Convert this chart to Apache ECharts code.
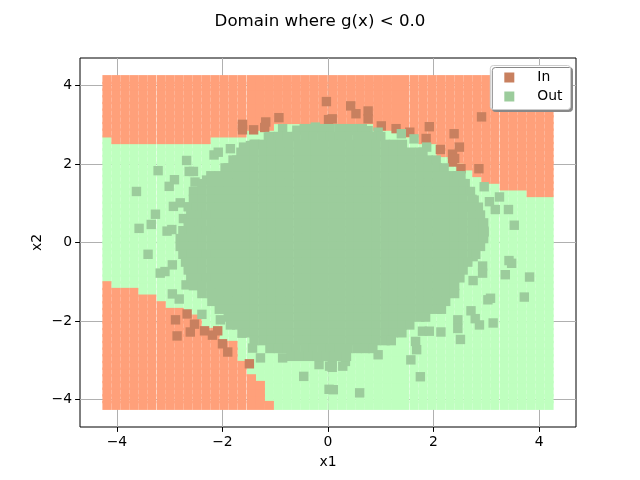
<!DOCTYPE html>
<html><head><meta charset="utf-8">
<style>html,body{margin:0;padding:0;background:#fff}#c{width:640px;height:480px}</style>
<script src="https://cdn.jsdelivr.net/npm/echarts@6/dist/echarts.min.js"></script>
</head><body><div id="c"></div>
<script>
const tickValues=[-4,-2,0,2,4];
const gridX=[-4.19,-4.02,-3.85,-3.68,-3.51,-3.34,-3.16,-2.99,-2.82,-2.65,-2.48,-2.31,-2.14,-1.97,-1.80,-1.63,-1.45,-1.28,-1.11,-0.94,-0.77,-0.60,-0.43,-0.26,-0.09,0.09,0.26,0.43,0.60,0.77,0.94,1.11,1.28,1.45,1.63,1.80,1.97,2.14,2.31,2.48,2.65,2.82,2.99,3.16,3.34,3.51,3.68,3.85,4.02,4.19];
const gridY=[-4.15,-3.98,-3.81,-3.64,-3.47,-3.30,-3.13,-2.96,-2.79,-2.62,-2.45,-2.29,-2.12,-1.95,-1.78,-1.61,-1.44,-1.27,-1.10,-0.93,-0.76,-0.59,-0.42,-0.25,-0.08,0.08,0.25,0.42,0.59,0.76,0.93,1.10,1.27,1.44,1.61,1.78,1.95,2.12,2.29,2.45,2.62,2.79,2.96,3.13,3.30,3.47,3.64,3.81,3.98,4.15];
// lower edge of the upper "In" region, per grid column
const topEdge=[2.73,2.50,2.50,2.50,2.50,2.50,2.50,2.50,2.50,2.50,2.50,2.50,2.73,2.73,2.73,2.73,2.75,2.80,2.86,2.91,2.93,2.98,3.01,3.03,3.06,3.06,3.06,3.01,2.96,2.91,2.88,2.83,2.78,2.73,2.68,2.55,2.40,2.22,2.09,1.97,1.81,1.69,1.54,1.43,1.38,1.33,1.23,1.21,1.13,1.06];
// upper edge of the lower "In" region, per grid column (first columns only)
const bottomEdge=[-1.03,-1.18,-1.18,-1.18,-1.33,-1.38,-1.48,-1.59,-1.69,-1.79,-1.89,-2.07,-2.22,-2.42,-2.55,-2.91,-3.31,-3.57,-4.00];
const samplesIn=[[-1.62,3.01],[-1.62,2.87],[-1.41,2.87],[-1.18,3.07],[-1.20,2.93],[-0.93,3.18],[-0.03,3.59],[0.01,3.13],[0.43,3.48],[0.53,3.28],[0.76,3.35],[0.76,3.15],[0.08,3.15],[1.01,2.97],[1.29,2.90],[1.55,2.81],[1.92,2.95],[1.86,2.65],[2.39,2.77],[2.49,2.43],[2.13,2.37],[2.36,2.25],[2.36,2.05],[2.52,1.88],[2.86,1.88],[2.91,3.20],[2.40,2.14],[-2.89,-1.97],[-2.67,-1.82],[-2.53,-2.08],[-2.61,-2.28],[-2.86,-2.38],[-2.34,-2.25],[-2.19,-2.36],[-2.09,-2.25],[-2.00,-2.58],[-1.90,-2.79],[-1.49,-3.09]];
const samplesOutScattered=[[-2.68,2.09],[-3.22,1.83],[-2.91,1.60],[-3.01,1.43],[-3.63,1.30],[-2.63,1.81],[-2.55,1.81],[-3.27,0.72],[-3.35,0.46],[-3.58,0.36],[-3.05,0.29],[-2.96,0.33],[-2.93,0.92],[-2.80,1.01],[-2.65,0.91],[-2.74,0.61],[-2.16,2.23],[-2.08,2.30],[-1.85,2.39],[-1.60,2.43],[-1.47,2.47],[-1.38,2.50],[-1.44,2.22],[-1.13,2.69],[-1.03,2.43],[-0.86,2.90],[-0.59,2.86],[-0.24,2.94],[-2.52,1.54],[-2.30,1.59],[0.76,2.85],[0.95,2.81],[0.49,2.86],[1.39,2.77],[1.63,2.64],[1.87,2.43],[3.25,1.16],[3.06,1.04],[3.17,0.84],[3.42,0.84],[3.53,0.44],[2.52,1.70],[2.96,1.42],[2.96,0.27],[2.65,0.95],[2.84,0.82],[2.77,1.08],[3.43,-0.46],[3.48,-0.53],[3.36,-0.82],[3.82,-0.88],[3.72,-1.39],[3.08,-1.42],[3.03,-1.46],[3.13,-2.05],[2.87,-2.10],[2.79,-1.94],[2.71,-1.74],[2.51,-2.47],[2.46,-1.97],[2.46,-2.19],[2.14,-2.28],[2.75,-0.97],[2.93,-0.60],[2.93,-0.78],[2.75,-0.36],[1.75,-3.42],[0.60,-3.83],[0.10,-3.75],[1.57,-2.99],[1.68,-2.73],[1.66,-2.52],[1.79,-2.26],[1.92,-2.26],[0.95,-2.86],[0.28,-3.15],[0.33,-3.03],[0.08,-3.07],[0.08,-3.18],[0.68,-2.68],[-3.41,-0.30],[-3.18,-0.78],[-3.09,-0.74],[-2.95,-0.57],[-2.95,-1.31],[-2.82,-1.44],[-2.69,-1.08],[-2.39,-1.83],[-0.46,-3.41],[0.02,-3.74],[-1.28,-2.94],[-0.86,-2.94],[-1.43,-2.69],[-0.17,-3.11],[-0.11,-2.90],[0.03,-3.15],[-2.04,-1.97],[-1.63,-2.31]];
const coreRowY=[2.9,2.7,2.5,2.3,2.1,1.9,1.7,1.5,1.3,1.1,0.9,0.7,0.5,0.3,0.1,-0.1,-0.3,-0.5,-0.7,-0.9,-1.1,-1.3,-1.5,-1.7,-1.9,-2.1,-2.3,-2.5,-2.7,-2.9];
const coreRowX=[
[-0.45,-0.29,-0.12,0.04,0.21,0.37,0.54,0.65],
[-1.10,-0.94,-0.77,-0.61,-0.44,-0.28,-0.11,0.05,0.22,0.38,0.55,0.71,0.88,1.00],
[-1.40,-1.23,-1.07,-0.90,-0.74,-0.57,-0.41,-0.24,-0.08,0.09,0.25,0.42,0.58,0.75,0.91,1.08,1.24,1.41],
[-1.65,-1.56,-1.40,-1.23,-1.07,-0.90,-0.74,-0.57,-0.41,-0.24,-0.08,0.09,0.25,0.42,0.58,0.75,0.91,1.08,1.24,1.41,1.57,1.74,1.80],
[-1.80,-1.73,-1.56,-1.40,-1.23,-1.07,-0.90,-0.74,-0.57,-0.41,-0.24,-0.08,0.09,0.25,0.42,0.58,0.75,0.91,1.08,1.24,1.41,1.57,1.74,1.90,2.05],
[-1.95,-1.89,-1.73,-1.56,-1.40,-1.23,-1.07,-0.90,-0.74,-0.57,-0.41,-0.24,-0.08,0.09,0.25,0.42,0.58,0.75,0.91,1.08,1.24,1.41,1.57,1.74,1.90,2.07,2.20],
[-2.22,-2.06,-1.89,-1.73,-1.56,-1.40,-1.23,-1.07,-0.90,-0.74,-0.57,-0.41,-0.24,-0.08,0.09,0.25,0.42,0.58,0.75,0.91,1.08,1.24,1.41,1.57,1.74,1.90,2.07,2.23,2.40,2.45],
[-2.39,-2.22,-2.06,-1.89,-1.73,-1.56,-1.40,-1.23,-1.07,-0.90,-0.74,-0.57,-0.41,-0.24,-0.08,0.09,0.25,0.42,0.58,0.75,0.91,1.08,1.24,1.41,1.57,1.74,1.90,2.07,2.23,2.40,2.56,2.60],
[-2.55,-2.39,-2.22,-2.06,-1.89,-1.73,-1.56,-1.40,-1.23,-1.07,-0.90,-0.74,-0.57,-0.41,-0.24,-0.08,0.09,0.25,0.42,0.58,0.75,0.91,1.08,1.24,1.41,1.57,1.74,1.90,2.07,2.23,2.40,2.56,2.70],
[-2.55,-2.39,-2.22,-2.06,-1.89,-1.73,-1.56,-1.40,-1.23,-1.07,-0.90,-0.74,-0.57,-0.41,-0.24,-0.08,0.09,0.25,0.42,0.58,0.75,0.91,1.08,1.24,1.41,1.57,1.74,1.90,2.07,2.23,2.40,2.56,2.73],
[-2.50,-2.39,-2.22,-2.06,-1.89,-1.73,-1.56,-1.40,-1.23,-1.07,-0.90,-0.74,-0.57,-0.41,-0.24,-0.08,0.09,0.25,0.42,0.58,0.75,0.91,1.08,1.24,1.41,1.57,1.74,1.90,2.07,2.23,2.40,2.56,2.73,2.85],
[-2.60,-2.45,-2.30,-2.14,-2.06,-1.89,-1.73,-1.56,-1.40,-1.23,-1.07,-0.90,-0.74,-0.57,-0.41,-0.24,-0.08,0.09,0.25,0.42,0.58,0.75,0.91,1.08,1.24,1.41,1.57,1.74,1.90,2.07,2.23,2.40,2.56,2.73,2.89],
[-2.65,-2.55,-2.39,-2.22,-2.06,-1.89,-1.73,-1.56,-1.40,-1.23,-1.07,-0.90,-0.74,-0.57,-0.41,-0.24,-0.08,0.09,0.25,0.42,0.58,0.75,0.91,1.08,1.24,1.41,1.57,1.74,1.90,2.07,2.23,2.40,2.56,2.73,2.89,2.95],
[-2.75,-2.60,-2.45,-2.30,-2.14,-2.06,-1.89,-1.73,-1.56,-1.40,-1.23,-1.07,-0.90,-0.74,-0.57,-0.41,-0.24,-0.08,0.09,0.25,0.42,0.58,0.75,0.91,1.08,1.24,1.41,1.57,1.74,1.90,2.07,2.23,2.40,2.56,2.73,2.89,2.95],
[-2.80,-2.72,-2.55,-2.39,-2.22,-2.06,-1.89,-1.73,-1.56,-1.40,-1.23,-1.07,-0.90,-0.74,-0.57,-0.41,-0.24,-0.08,0.09,0.25,0.42,0.58,0.75,0.91,1.08,1.24,1.41,1.57,1.74,1.90,2.07,2.23,2.40,2.56,2.73,2.89,2.95],
[-2.80,-2.72,-2.55,-2.39,-2.22,-2.06,-1.89,-1.73,-1.56,-1.40,-1.23,-1.07,-0.90,-0.74,-0.57,-0.41,-0.24,-0.08,0.09,0.25,0.42,0.58,0.75,0.91,1.08,1.24,1.41,1.57,1.74,1.90,2.07,2.23,2.40,2.56,2.73,2.89],
[-2.75,-2.60,-2.45,-2.30,-2.14,-2.06,-1.89,-1.73,-1.56,-1.40,-1.23,-1.07,-0.90,-0.74,-0.57,-0.41,-0.24,-0.08,0.09,0.25,0.42,0.58,0.75,0.91,1.08,1.24,1.41,1.57,1.74,1.90,2.07,2.23,2.40,2.56,2.73,2.80],
[-2.70,-2.55,-2.39,-2.22,-2.06,-1.89,-1.73,-1.56,-1.40,-1.23,-1.07,-0.90,-0.74,-0.57,-0.41,-0.24,-0.08,0.09,0.25,0.42,0.58,0.75,0.91,1.08,1.24,1.41,1.57,1.74,1.90,2.07,2.23,2.40,2.56,2.65],
[-2.65,-2.55,-2.39,-2.22,-2.06,-1.89,-1.73,-1.56,-1.40,-1.23,-1.07,-0.90,-0.74,-0.57,-0.41,-0.24,-0.08,0.09,0.25,0.42,0.58,0.75,0.91,1.08,1.24,1.41,1.57,1.74,1.90,2.07,2.23,2.40,2.56],
[-2.60,-2.45,-2.30,-2.14,-2.06,-1.89,-1.73,-1.56,-1.40,-1.23,-1.07,-0.90,-0.74,-0.57,-0.41,-0.24,-0.08,0.09,0.25,0.42,0.58,0.75,0.91,1.08,1.24,1.41,1.57,1.74,1.90,2.07,2.23,2.40,2.50],
[-2.55,-2.39,-2.22,-2.06,-1.89,-1.73,-1.56,-1.40,-1.23,-1.07,-0.90,-0.74,-0.57,-0.41,-0.24,-0.08,0.09,0.25,0.42,0.58,0.75,0.91,1.08,1.24,1.41,1.57,1.74,1.90,2.07,2.23,2.40],
[-2.39,-2.22,-2.06,-1.89,-1.73,-1.56,-1.40,-1.23,-1.07,-0.90,-0.74,-0.57,-0.41,-0.24,-0.08,0.09,0.25,0.42,0.58,0.75,0.91,1.08,1.24,1.41,1.57,1.74,1.90,2.07,2.23,2.40],
[-2.20,-2.06,-1.89,-1.73,-1.56,-1.40,-1.23,-1.07,-0.90,-0.74,-0.57,-0.41,-0.24,-0.08,0.09,0.25,0.42,0.58,0.75,0.91,1.08,1.24,1.41,1.57,1.74,1.90,2.07,2.23],
[-2.06,-1.89,-1.73,-1.56,-1.40,-1.23,-1.07,-0.90,-0.74,-0.57,-0.41,-0.24,-0.08,0.09,0.25,0.42,0.58,0.75,0.91,1.08,1.24,1.41,1.57,1.74,1.90,2.07,2.15],
[-1.89,-1.73,-1.56,-1.40,-1.23,-1.07,-0.90,-0.74,-0.57,-0.41,-0.24,-0.08,0.09,0.25,0.42,0.58,0.75,0.91,1.08,1.24,1.41,1.57,1.74,1.85],
[-1.85,-1.73,-1.56,-1.40,-1.23,-1.07,-0.90,-0.74,-0.57,-0.41,-0.24,-0.08,0.09,0.25,0.42,0.58,0.75,0.91,1.08,1.24,1.41,1.55],
[-1.55,-1.40,-1.23,-1.07,-0.90,-0.74,-0.57,-0.41,-0.24,-0.08,0.09,0.25,0.42,0.58,0.75,0.91,1.08,1.24,1.40],
[-1.40,-1.23,-1.07,-0.90,-0.74,-0.57,-0.41,-0.24,-0.08,0.09,0.25,0.42,0.58,0.75,0.91,1.08,1.20],
[-1.10,-0.94,-0.77,-0.61,-0.44,-0.28,-0.11,0.05,0.22,0.38,0.55,0.71,0.85],
[-0.70,-0.54,-0.37,-0.21,-0.04,0.12,0.29,0.35]
];

const domainIn=[],domainOut=[];
gridX.forEach((x,i)=>gridY.forEach(y=>{
  const bot=i<bottomEdge.length?bottomEdge[i]:-9;
  (y>=topEdge[i]+0.06||y<=bot-0.06?domainIn:domainOut).push([x,y]);
}));
const samplesOut=[...samplesOutScattered];
coreRowY.forEach((y,r)=>coreRowX[r].forEach(x=>samplesOut.push([x,y])));

const font='"DejaVu Sans"';
const minus=v=>String(v).replace('-','\u2212');
function axis(name,gap,rot){return{
  type:'value',min:-4.7,max:4.7,name,nameLocation:'middle',nameGap:gap,nameRotate:rot,nameMoveOverlap:false,
  nameTextStyle:{fontFamily:font,fontSize:13.9,color:'#000'},
  axisLine:{show:false,onZero:false},
  axisTick:{show:true,length:4.9,customValues:tickValues,lineStyle:{color:'#000',width:1}},
  axisLabel:{show:true,customValues:tickValues,formatter:minus,fontFamily:font,fontSize:13.9,color:'#000',margin:8},
  splitLine:{show:true,lineStyle:{color:'#b0b0b0',width:1}}
};}
function cells(name,data,color,z,size){return{type:'scatter',name,data,symbol:'rect',symbolSize:size,silent:true,progressive:0,
  itemStyle:{color,opacity:1},z};}
const chart=echarts.init(document.getElementById('c'),null,{renderer:'canvas'});
chart.setOption({
  animation:false,backgroundColor:'#fff',
  title:{text:'Domain where g(x) < 0.0',left:'center',top:8,textStyle:{fontFamily:font,fontSize:16.67,fontWeight:'normal',color:'#000'}},
  grid:{left:80,right:64,top:58,bottom:53,show:true,borderColor:'#000',borderWidth:1,backgroundColor:'transparent'},
  xAxis:axis('x1',28,0),
  yAxis:axis('x2',36,90),
  legend:{data:['In','Out'],orient:'vertical',right:69.5,top:65.5,icon:'rect',itemWidth:10,itemHeight:10,itemGap:5,
    padding:[5,8,6,14],backgroundColor:'#fff',borderColor:'#ccc',borderWidth:1,borderRadius:3,
    shadowColor:'#888',shadowBlur:0,shadowOffsetX:2,shadowOffsetY:2,
    textStyle:{fontFamily:font,fontSize:13.9,color:'#000',padding:[0,0,0,18]},z:20},
  series:[
    cells('domainOut',domainOut,'#BFFFBF',2,9),
    cells('domainIn',domainIn,'#FFA07A',3,9),
    cells('In',samplesIn,'#C8805F',4,9.4),
    cells('Out',samplesOut,'#9CCC9C',5,9.4)
  ]
});
</script></body></html>
